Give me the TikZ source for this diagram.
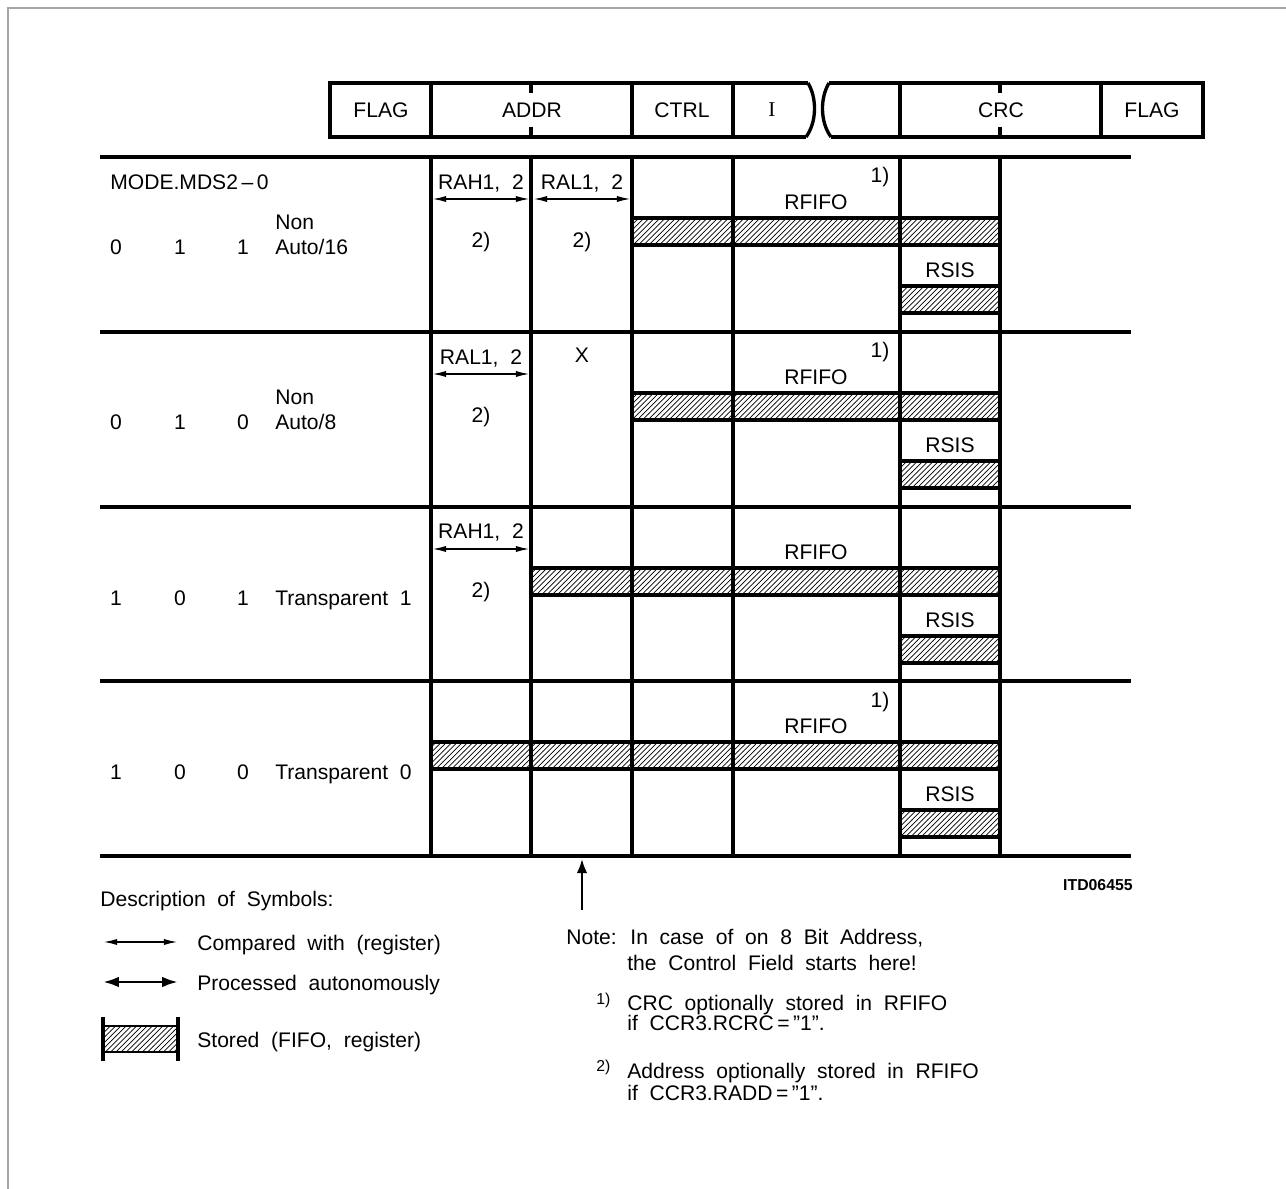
\documentclass[tikz,border=0pt]{standalone}
\usepackage{fontspec}
\setmainfont{Liberation Sans}[WordSpace=2]
\newfontfamily\serifI{Liberation Serif}
\usetikzlibrary{positioning, arrows.meta, patterns}

\tikzset{
  rule/.style={line width=1.9pt},
  stored/.style={draw, line width=1.9pt, pattern=north east lines},
  cmp/.style={line width=1pt, {Latex[length=8pt,width=3.5pt]}-{Latex[length=8pt,width=3.5pt]}},
  proc/.style={line width=1.6pt, {Latex[length=9pt,width=6pt]}-{Latex[length=9pt,width=6pt]}},
  txt/.style={inner sep=0pt, anchor=base, font=\fontsize{12}{14}\selectfont},
  txtw/.style={txt, anchor=base west},
  fn/.style={inner sep=0pt, anchor=base west, font=\fontsize{9}{11}\selectfont},
}

\begin{document}
\begin{tikzpicture}[x=0.02cm, y=-0.02cm]
    \useasboundingbox (0,0) rectangle (1286,1189);
    \draw[gray!70, line width=0.8pt] (8,1189) -- (8,8) -- (1286,8);

    % frame header
    \draw[rule] (808,83) -- (330,83) -- (330,137) -- (806,137);
    \draw[rule] (829,83) -- (1203,83) -- (1203,137) -- (831,137);
    \foreach \x in {431,632,733,900,1101}
        \draw[rule] (\x,83) -- (\x,137);
    \foreach \x in {531,1000} {
        \draw[rule] (\x,83) -- (\x,93);
        \draw[rule] (\x,127) -- (\x,137);
    }
    \draw[rule] (808,83) .. controls (817,98) and (817,122) .. (806,137);
    \draw[rule] (829,83) .. controls (820,98) and (820,122) .. (831,137);
    \node (hflag1) at (381,110) [font=\fontsize{12}{14}\selectfont] {FLAG};
    \node (haddr) at (532,110) [font=\fontsize{12}{14}\selectfont] {ADDR};
    \node (hctrl) at (682,110) [font=\fontsize{12}{14}\selectfont] {CTRL};
    \node (hi) at (772,110) [font=\fontsize{12}{14}\selectfont\serifI] {I};
    \node (hcrc) at (1001,110) [font=\fontsize{12}{14}\selectfont] {CRC};
    \node (hflag2) at (1152,110) [font=\fontsize{12}{14}\selectfont] {FLAG};

    % stored bars, RFIFO and RSIS in every mode
    \foreach \rt/\a in {157/632, 332/632, 507/531, 681/431} {
        \draw[stored] (\a,{\rt+61}) rectangle (1000,{\rt+88});
        \draw[stored] (900,{\rt+129}) rectangle (1000,{\rt+156});
        \node (rfifo\rt) at (816,{\rt+53}) [txt] {RFIFO};
        \node (rsis\rt) at (950,{\rt+121}) [txt] {RSIS};
    }

    % table grid
    \foreach \y in {157,332,507,681,856}
        \draw[rule] (100,\y) -- (1131,\y);
    \foreach \x in {431,531,632,733,900,1000}
        \draw[rule] (\x,157) -- (\x,856);

    % mode column
    \node (mds) at (110,190) [txtw] {MODE.MDS2\,--\,0};
    \node (m1a) at (116,255) [txt] {0};
    \node (m1b) at (180,255) [txt] {1};
    \node (m1c) at (243,255) [txt] {1};
    \node (m1n) at (275,230) [txtw] {Non};
    \node (m1t) at (275,255) [txtw] {Auto/16};
    \node (m2a) at (116,430) [txt] {0};
    \node (m2b) at (180,430) [txt] {1};
    \node (m2c) at (243,430) [txt] {0};
    \node (m2n) at (275,405) [txtw] {Non};
    \node (m2t) at (275,430) [txtw] {Auto/8};
    \node (m3a) at (116,606) [txt] {1};
    \node (m3b) at (180,606) [txt] {0};
    \node (m3c) at (243,606) [txt] {1};
    \node (m3t) at (275,606) [txtw] {Transparent 1};
    \node (m4a) at (116,780) [txt] {1};
    \node (m4b) at (180,780) [txt] {0};
    \node (m4c) at (243,780) [txt] {0};
    \node (m4t) at (275,780) [txtw] {Transparent 0};

    % address compare arrows
    \foreach \rt in {157,332,507} {
        \coordinate (p\rt) at (432,{\rt+42});
        \coordinate (q\rt) at (530,{\rt+42});
        \draw[cmp] (p\rt) -- (q\rt);
    }
    \coordinate (pl) at (533,199);
    \coordinate (ql) at (631,199);
    \draw[cmp] (pl) -- (ql);
    \node (rah1) at (481,190) [txt] {RAH1, 2};
    \node (ral1) at (582,190) [txt] {RAL1, 2};
    \node (ral2) at (481,365) [txt] {RAL1, 2};
    \node (rah3) at (481,539) [txt] {RAH1, 2};
    \node (xx) at (582,363) [txt] {X};
    \node (fa1) at (481,248) [txt] {2)};
    \node (fb1) at (582,248) [txt] {2)};
    \node (fa2) at (481,423) [txt] {2)};
    \node (fa3) at (481,598) [txt] {2)};
    \node (fc1) at (880,183) [txt] {1)};
    \node (fc2) at (880,358) [txt] {1)};
    \node (fc4) at (880,707) [txt] {1)};

    % note arrow
    \coordinate (ntail) at (582,910);
    \coordinate (ntip) at (582,859);
    \draw[line width=1.2pt, -{Latex[length=8pt,width=6pt]}] (ntail) -- (ntip);
    \node (itd) at (1133,890) [inner sep=0pt, anchor=base east, font=\fontsize{9}{10}\selectfont\bfseries] {ITD06455};

    % legend
    \node (desc) at (100,906) [txtw] {Description of Symbols:};
    \coordinate (c1) at (103,942);
    \coordinate (c2) at (178,942);
    \draw[cmp] (c1) -- (c2);
    \node (cmptxt) at (197,950) [txtw] {Compared with (register)};
    \coordinate (d1) at (103,982);
    \coordinate (d2) at (178,982);
    \draw[proc] (d1) -- (d2);
    \node (proctxt) at (197,990) [txtw] {Processed autonomously};
    \draw[stored, line width=1.6pt] (103,1026) rectangle (178,1052);
    \draw[line width=2.6pt] (103,1017) -- (103,1061);
    \draw[line width=2.6pt] (178,1017) -- (178,1061);
    \node (sttxt) at (197,1047) [txtw] {Stored (FIFO, register)};

    % notes
    \node (note1) at (566,944) [txtw] {Note: In case of on 8 Bit Address,};
    \node (note2) at (627,970) [txtw] {the Control Field starts here!};
    \node (n1m) at (596,1004) [fn] {1)};
    \node (n1a) at (627,1010) [txtw] {CRC optionally stored in RFIFO};
    \node (n1b) at (627,1030) [txtw] {if CCR3.RCRC\,=\,''1''.};
    \node (n2m) at (596,1071) [fn] {2)};
    \node (n2a) at (627,1078) [txtw] {Address optionally stored in RFIFO};
    \node (n2b) at (627,1100) [txtw] {if CCR3.RADD\,=\,''1''.};
\end{tikzpicture}
\end{document}
